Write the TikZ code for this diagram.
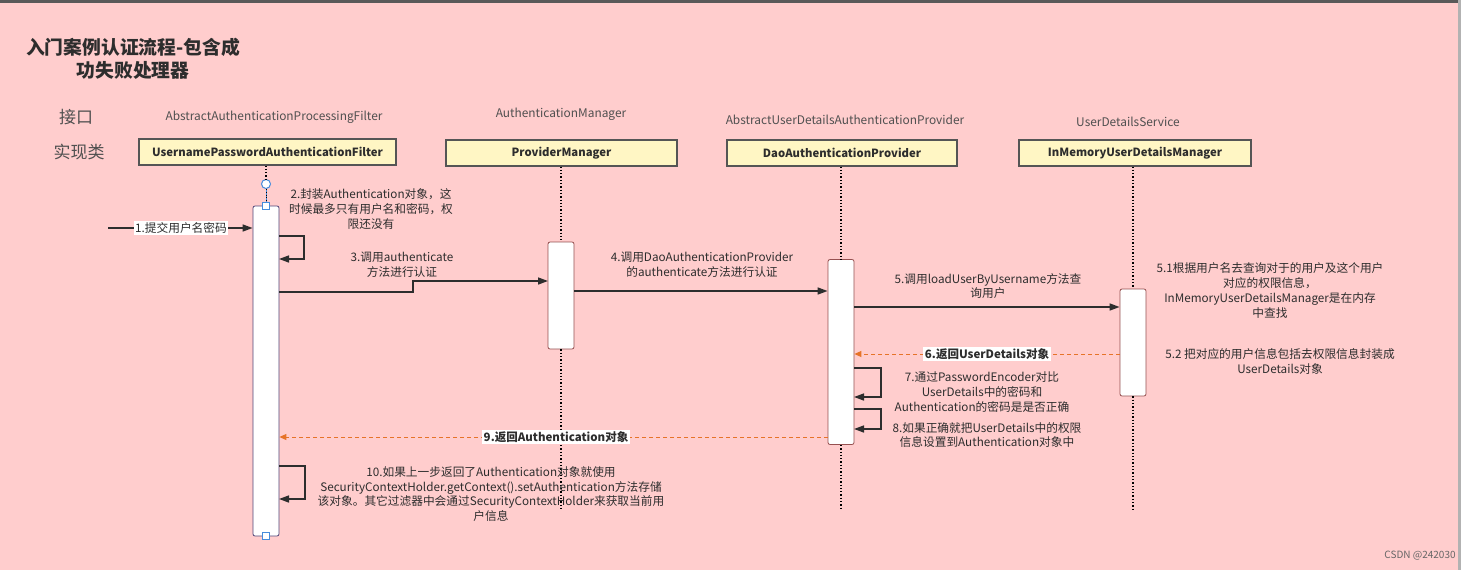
\documentclass[tikz,border=0pt]{standalone}
\usepackage{fontspec}
\setmainfont{Noto Sans CJK SC}
\usetikzlibrary{arrows.meta}
\definecolor{bgpink}{RGB}{255,205,205}
\definecolor{hdrfill}{RGB}{255,246,196}
\definecolor{hdrdraw}{RGB}{85,85,85}
\definecolor{txtdark}{RGB}{45,45,45}
\definecolor{txtgray}{RGB}{80,80,80}
\definecolor{actdraw}{RGB}{150,80,80}
\definecolor{actblue}{RGB}{80,70,120}
\definecolor{retorange}{RGB}{230,115,40}
\definecolor{selblue}{RGB}{70,140,220}
\tikzset{
  hdrbox/.style={draw=hdrdraw, line width=1.1pt, fill=hdrfill, minimum width=230pt, minimum height=26pt, inner sep=0pt, font=\fontsize{11.3}{13}\selectfont\bfseries, text=txtdark},
  ifacelbl/.style={font=\fontsize{11.9}{13}\selectfont, text=txtgray, inner sep=0pt},
  actbox/.style={draw=actdraw, line width=0.8pt, fill=white, rounded corners=2pt, minimum width=26pt, inner sep=0pt},
  lifeline/.style={dotted, line width=1.3pt, black},
  msg/.style={draw=txtdark, line width=1.5pt, -{Triangle[length=10pt,width=7pt]}},
  ret/.style={draw=retorange, line width=0.9pt, dashed, dash pattern=on 4pt off 3pt, -{Triangle[length=7pt,width=6pt]}},
  note/.style={font=\fontsize{11.7}{14.8}\selectfont, text=txtdark, align=center, inner sep=0pt},
  wlabel/.style={font=\fontsize{11.7}{13}\selectfont, text=txtdark, fill=white, inner sep=1.5pt},
  blabel/.style={font=\fontsize{11.5}{13}\selectfont\bfseries, text=txtdark, fill=white, inner sep=1.5pt},
  sidelbl/.style={font=\fontsize{17}{20}\selectfont, text=txtgray, inner sep=0pt},
}
\begin{document}
\begin{tikzpicture}[x=1pt,y=-1pt]
\path[use as bounding box] (0,0) rectangle (1461,570);
\fill[bgpink] (0,0) rectangle (1461,570);
\fill[gray!70!black] (0,0) rectangle (1461,3);
\fill[gray!60] (1458,0) rectangle (1461,570);

% title
\node[font=\fontsize{18.8}{23}\selectfont\bfseries, text=txtdark, align=center, inner sep=0pt] (title) at (133,59) {入门案例认证流程-包含成\\功失败处理器};
\node[sidelbl] (iface) at (76,117) {接口};
\node[sidelbl] (impl) at (79,152) {实现类};

% interface labels
\node[ifacelbl] (i1) at (274,117) {AbstractAuthenticationProcessingFilter};
\node[ifacelbl] (i2) at (561,114) {AuthenticationManager};
\node[ifacelbl] (i3) at (845,120) {AbstractUserDetailsAuthenticationProvider};
\node[ifacelbl] (i4) at (1128,122) {UserDetailsService};

% header boxes
\node[hdrbox, minimum width=257pt] (h1) at (267.5,152) {UsernamePasswordAuthenticationFilter};
\node[hdrbox, minimum width=231pt] (h2) at (561.5,153) {ProviderManager};
\node[hdrbox] (h3) at (842,153) {DaoAuthenticationProvider};
\node[hdrbox, minimum width=232pt] (h4) at (1135,153) {InMemoryUserDetailsManager};

% activation boxes
\node[actbox, draw=actblue, minimum height=330pt] (a1) at (266,371) {};
\node[actbox, minimum height=107pt] (a2) at (561,295.5) {};
\node[actbox, minimum height=185pt] (a3) at (841,352) {};
\node[actbox, minimum height=107pt] (a4) at (1133,342.5) {};

% lifelines
\node[circle, draw=selblue, fill=white, line width=1pt, minimum size=9pt, inner sep=0pt] (c1) at (266,184) {};
\node[draw=selblue, fill=white, line width=0.8pt, minimum size=7pt, inner sep=0pt] (s1) at (266,206) {};
\node[draw=selblue, fill=white, line width=0.8pt, minimum size=7pt, inner sep=0pt] (s2) at (266,536) {};
\draw[lifeline] (h1.south -| c1) -- (c1.north);
\draw[selblue, line width=1pt] (c1.south) -- (s1.north);
\draw[lifeline, line width=0.8pt] (c1.south) -- (s1.north);
\draw[lifeline] (h2.south -| a2) -- (a2.north);
\coordinate (e2) at (561,509);
\draw[lifeline] (a2.south) -- (e2);
\draw[lifeline] (h3.south -| a3) -- (a3.north);
\coordinate (e3) at (841,509);
\draw[lifeline] (a3.south) -- (e3);
\draw[lifeline] (h4.south -| a4) -- (a4.north);
\coordinate (e4) at (1133,509);
\draw[lifeline] (a4.south) -- (e4);

% 1
\coordinate (m1s) at (108,228);
\draw[msg] (m1s) -- (m1s -| a1.west);
\node[wlabel] (l1) at (181,228) {1.提交用户名密码};

% 2 self call
\coordinate (m2a) at (279,236);
\coordinate (m2b) at (279,259);
\draw[msg] (m2a) -- (304,236) -- (304,259) -- (m2b);
\node[note] (l2) at (371,209) {2.封装Authentication对象，这\\时候最多只有用户名和密码，权\\限还没有};

% 3
\coordinate (m3a) at (279,292);
\coordinate (m3b) at (548,281);
\draw[msg] (m3a) -- (413,292) -- (413,281) -- (m3b);
\node[note] (l3) at (402,265) {3.调用authenticate\\方法进行认证};

% 4
\coordinate (m4a) at (574,291);
\draw[msg] (m4a) -- (m4a -| a3.west);
\node[note] (l4) at (702,265) {4.调用DaoAuthenticationProvider\\的authenticate方法进行认证};

% 5
\coordinate (m5a) at (854,307);
\draw[msg] (m5a) -- (m5a -| a4.west);
\node[note] (l5) at (988,286) {5.调用loadUserByUsername方法查\\询用户};

\node[note] (l51) at (1270,290.5) {5.1根据用户名去查询对于的用户及这个用户\\对应的权限信息，\\InMemoryUserDetailsManager是在内存\\中查找};
\node[note] (l52) at (1280,361.5) {5.2 把对应的用户信息包括去权限信息封装成\\UserDetails对象};

% 6
\coordinate (m6a) at (1120,354);
\draw[ret] (m6a) -- (m6a -| a3.east);
\node[blabel] (l6) at (987,354) {6.返回UserDetails对象};

% 7
\coordinate (m7a) at (854,368);
\coordinate (m7b) at (854,397);
\draw[msg] (m7a) -- (881,368) -- (881,397) -- (m7b);
\node[note] (l7) at (982,392) {7.通过PasswordEncoder对比\\UserDetails中的密码和\\Authentication的密码是是否正确};

% 8
\coordinate (m8a) at (854,409);
\coordinate (m8b) at (854,429);
\draw[msg] (m8a) -- (881,409) -- (881,429) -- (m8b);
\node[note] (l8) at (987,435) {8.如果正确就把UserDetails中的权限\\信息设置到Authentication对象中};

% 9
\coordinate (m9a) at (828,437);
\draw[ret] (m9a) -- (m9a -| a1.east);
\node[blabel] (l9) at (556,437) {9.返回Authentication对象};

% 10
\coordinate (m10a) at (279,466);
\coordinate (m10b) at (279,499);
\draw[msg] (m10a) -- (305,466) -- (305,499) -- (m10b);
\node[note] (l10) at (491,494) {10.如果上一步返回了Authentication对象就使用\\SecurityContextHolder.getContext().setAuthentication方法存储\\该对象。其它过滤器中会通过SecurityContextHolder来获取当前用\\户信息};

\node[font=\fontsize{10}{12}\selectfont, text=gray!80!black, inner sep=0pt] (csdn) at (1420,556) {CSDN @242030};
\end{tikzpicture}
\end{document}
